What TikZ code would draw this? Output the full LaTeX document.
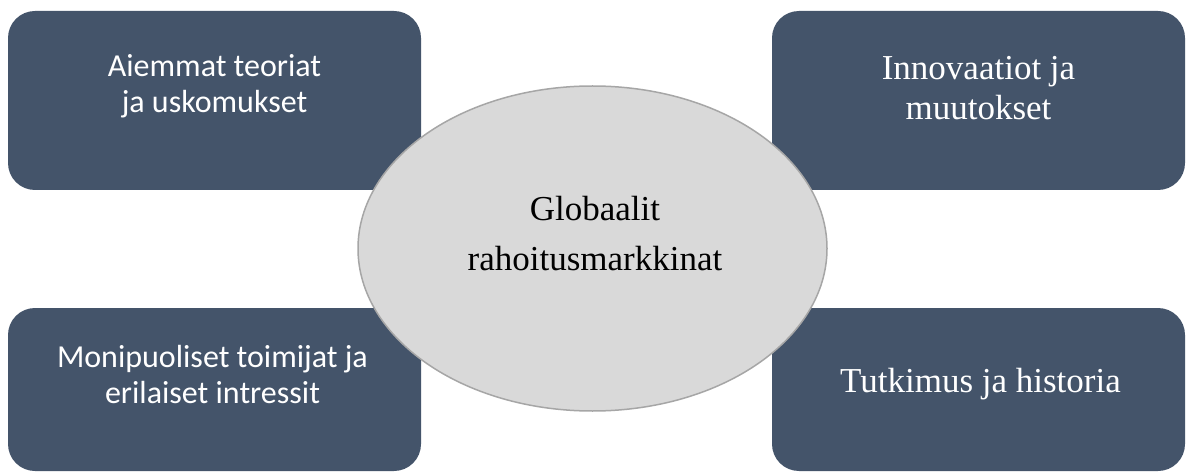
\documentclass[tikz,border=0pt]{standalone}
\usepackage{fontspec}
\setmainfont{Liberation Serif}
\newfontfamily\carlito{Carlito}
\usetikzlibrary{shapes.geometric}
\definecolor{boxblue}{HTML}{44546A}
\definecolor{ellfill}{HTML}{D9D9D9}
\definecolor{ellline}{HTML}{A6A6A6}
\begin{document}
\begin{tikzpicture}[x=1pt,y=-1pt,
  card/.style={fill=boxblue, draw=none, rounded corners=27pt, inner sep=0pt,
    minimum width=413pt},
  tallcard/.style={card, minimum height=179pt},
  lowcard/.style={card, minimum height=163pt},
  sanslabel/.style={text=white, align=center, anchor=base, inner sep=0pt,
    font=\carlito\fontsize{32}{36}\selectfont},
  seriflabel/.style={text=white, align=center, anchor=base, inner sep=0pt,
    font=\fontsize{35}{40}\selectfont},
  hub/.style={ellipse, fill=ellfill, draw=ellline, line width=1.5pt,
    minimum width=469pt, minimum height=325pt, inner sep=0pt},
  hublabel/.style={text=black, align=center, anchor=base, inner sep=0pt,
    font=\fontsize{35}{51}\selectfont}]
\useasboundingbox (0,0) rectangle (1189,473);
\fill[white] (0,0) rectangle (1189,473);

\node[tallcard] (tl) at (214.5,100.5) {};
\node[tallcard] (tr) at (978.5,100.5) {};
\node[lowcard]  (bl) at (214.5,389.5) {};
\node[lowcard]  (br) at (978.5,389.5) {};

\node[sanslabel]  (tltext) at (214.5,113) {Aiemmat teoriat\\ja uskomukset};
\node[sanslabel]  (bltext) at (212.5,403) {Monipuoliset toimijat ja\\erilaiset intressit};
\node[seriflabel] (trtext) at (978.5,120) {Innovaatiot ja\\muutokset};
\node[seriflabel] (brtext) at (980.5,392) {Tutkimus ja historia};

\node[hub] (center) at (592.5,248.5) {};
\node[hublabel] (centertext) at (595,271) {Globaalit\\rahoitusmarkkinat};
\end{tikzpicture}
\end{document}
